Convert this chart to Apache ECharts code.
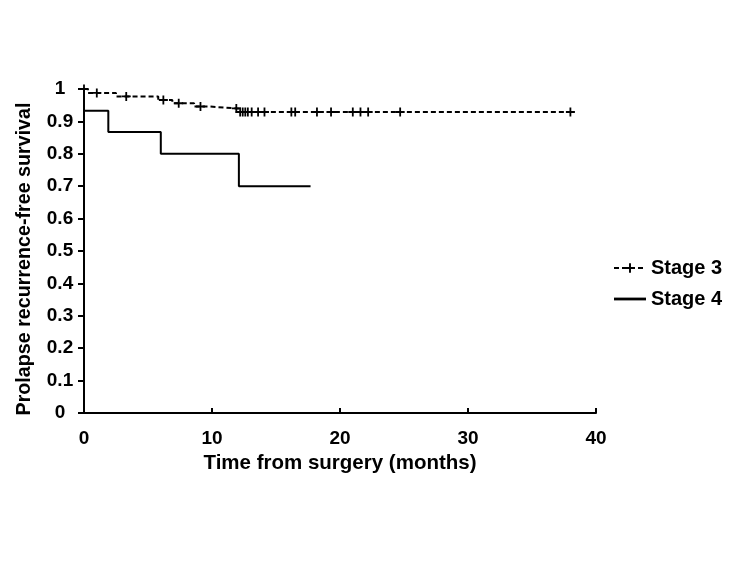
<!DOCTYPE html>
<html>
<head>
<meta charset="utf-8">
<script src="https://cdn.jsdelivr.net/npm/echarts@6/dist/echarts.min.js"></script>
<style>
  html, body { margin: 0; padding: 0; background: #fff; }
  #chart { width: 750px; height: 563px; }
</style>
</head>
<body>
<div id="chart"></div>
<script>
// Kaplan-Meier steps: [time, survival]
var stage3Steps = [[0, 1.0], [0.3, 0.988], [2.5, 0.977], [5.8, 0.966], [6.9, 0.956], [8.6, 0.946], [9.8, 0.94], [12.1, 0.929]];
var stage3Censored = [0, 1.0, 3.3, 6.2, 7.4, 9.1, 11.9, 12.2, 12.4, 12.6, 12.8, 13.1, 13.6, 14.1, 16.2, 16.5, 18.2, 19.3, 21.0, 21.6, 22.2, 24.7, 38.0];
var stage4Steps = [[0, 0.933], [1.9, 0.867], [6.0, 0.8], [12.1, 0.7], [17.7, 0.7]];

var plus = 'path://M4,0H6V4H10V6H6V10H4V6H0V4H4Z';
// thin bar inside a full-size box so the legend keeps it thin
var solidIcon = 'path://M0,0L0,0M0,4.6H32V7.4H0ZM32,12L32,12';

// survival level holding at time t
function levelAt(steps, t) {
    var v = steps[0][1];
    for (var i = 0; i < steps.length; i++) {
        if (steps[i][0] <= t) v = steps[i][1];
    }
    return v;
}

// merge steps and censor marks, only censor marks get a symbol
var stage3Data = [];
stage3Steps.forEach(function (p) {
    stage3Data.push({ value: [p[0], p[1]], symbol: 'none', t: p[0], c: 0 });
});
stage3Censored.forEach(function (t) {
    stage3Data.push({ value: [t, levelAt(stage3Steps, t)], t: t, c: 1 });
});
stage3Data.sort(function (a, b) { return a.t - b.t || a.c - b.c; });

var bold = { fontFamily: 'Liberation Sans, Arial, sans-serif', fontWeight: 'bold', color: '#000' };

var chart = echarts.init(document.getElementById('chart'));
chart.setOption({
    animation: false,
    legend: {
        orient: 'vertical',
        left: 608,
        top: 253,
        itemWidth: 32,
        itemHeight: 12,
        itemGap: 11,
        textStyle: Object.assign({ fontSize: 20 }, bold),
        data: ['Stage 3', { name: 'Stage 4', icon: solidIcon }]
    },
    grid: { left: 84, right: 154, top: 89, bottom: 150 },
    xAxis: {
        type: 'value',
        min: 0,
        max: 40,
        interval: 10,
        name: 'Time from surgery (months)',
        nameLocation: 'middle',
        nameGap: 35,
        nameTextStyle: Object.assign({ fontSize: 20.5 }, bold),
        axisLine: { lineStyle: { color: '#000', width: 2 } },
        axisTick: { inside: true, length: 5, lineStyle: { color: '#000', width: 2 } },
        axisLabel: Object.assign({ fontSize: 19, margin: 16 }, bold),
        splitLine: { show: false }
    },
    yAxis: {
        type: 'value',
        min: 0,
        max: 1,
        interval: 0.1,
        name: 'Prolapse recurrence-free survival',
        nameLocation: 'middle',
        nameGap: 49,
        nameTextStyle: Object.assign({ fontSize: 19.7, padding: [0, 16, 0, 0] }, bold),
        axisLine: { show: true, lineStyle: { color: '#000', width: 2 } },
        axisTick: { show: true, length: 6, lineStyle: { color: '#000', width: 2 } },
        axisLabel: Object.assign({
            fontSize: 19,
            margin: 24,
            align: 'center',
            formatter: function (v) { return String(Math.round(v * 10) / 10); }
        }, bold),
        splitLine: { show: false }
    },
    series: [
        {
            name: 'Stage 3',
            type: 'line',
            step: 'end',
            data: stage3Data,
            symbol: plus,
            symbolSize: 9,
            showSymbol: true,
            showAllSymbol: true,
            itemStyle: { color: '#000' },
            lineStyle: { color: '#000', width: 2, type: [5, 3] }
        },
        {
            name: 'Stage 4',
            type: 'line',
            step: 'end',
            data: stage4Steps,
            symbol: 'none',
            itemStyle: { color: '#000' },
            lineStyle: { color: '#000', width: 2 }
        }
    ]
});
</script>
</body>
</html>
